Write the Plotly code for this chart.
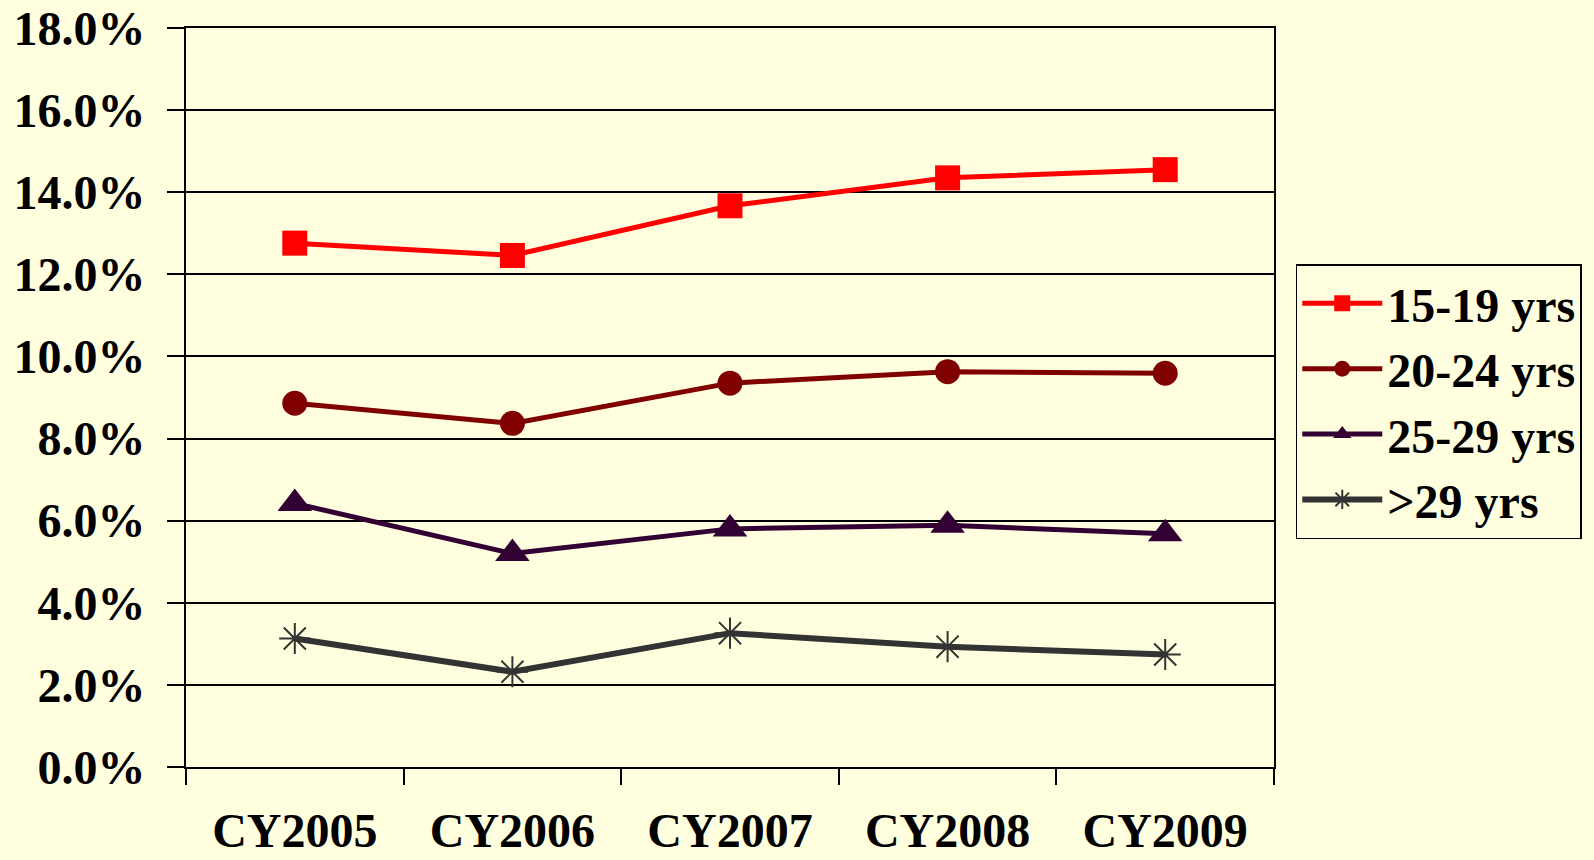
import plotly.graph_objects as go

categories = ["CY2005", "CY2006", "CY2007", "CY2008", "CY2009"]
s15_19 = [12.76, 12.46, 13.67, 14.35, 14.55]
s20_24 = [8.86, 8.37, 9.35, 9.63, 9.59]
s25_29 = [6.42, 5.20, 5.80, 5.89, 5.68]
s29p = [3.13, 2.32, 3.26, 2.93, 2.74]
names = ["15-19 yrs", "20-24 yrs", "25-29 yrs", ">29 yrs"]
ytick_vals = [0, 2, 4, 6, 8, 10, 12, 14, 16, 18]
ytick_text = ["0.0%", "2.0%", "4.0%", "6.0%", "8.0%", "10.0%", "12.0%", "14.0%", "16.0%", "18.0%"]

BG = "#FFFFE0"
FONT = "Liberation Serif"
FS = 48

fig = go.Figure()
fig.add_trace(go.Scatter(x=categories, y=s15_19, name=names[0], mode="lines+markers",
                         line=dict(color="#FF0000", width=5),
                         marker=dict(symbol="square", size=25, color="#FF0000")))
fig.add_trace(go.Scatter(x=categories, y=s20_24, name=names[1], mode="lines+markers",
                         line=dict(color="#800000", width=5),
                         marker=dict(symbol="circle", size=25, color="#800000")))
fig.add_trace(go.Scatter(x=categories, y=s25_29, name=names[2], mode="lines+markers",
                         line=dict(color="#330033", width=5),
                         marker=dict(symbol="triangle-up", size=30, color="#330033")))
fig.add_trace(go.Scatter(x=categories, y=s29p, name=names[3], mode="lines+markers",
                         line=dict(color="#333333", width=6),
                         marker=dict(symbol="asterisk-open", size=26,
                                     line=dict(color="#333333", width=2))))

fig.update_layout(
    width=1594, height=860,
    paper_bgcolor=BG, plot_bgcolor=BG,
    margin=dict(l=186, r=320, t=28, b=93, autoexpand=False),
    font=dict(family=FONT, size=FS, color="#000000"),
    showlegend=True,
    legend=dict(x=1.02, xanchor="left", y=0.6806, yanchor="top",
                bgcolor=BG, bordercolor="#000000", borderwidth=1.5,
                font=dict(family=FONT, size=FS, color="#000000", weight="bold"),
                itemwidth=80, tracegroupgap=0),
    xaxis=dict(type="category", tickson="boundaries", ticks="outside", ticklen=16,
               tickwidth=2, tickcolor="#000000", showgrid=False,
               showline=True, linecolor="#000000", linewidth=2, mirror=True,
               range=[-0.5, 4.5],
               tickfont=dict(family=FONT, size=FS, weight="bold", color="#000000"),
               ticklabelstandoff=20),
    yaxis=dict(range=[0, 18], tickvals=ytick_vals, ticktext=ytick_text,
               ticks="outside", ticklen=17, tickwidth=2, tickcolor="#000000",
               showgrid=True, gridcolor="#000000", gridwidth=2,
               showline=True, linecolor="#000000", linewidth=2, mirror=True,
               zeroline=False,
               tickfont=dict(family=FONT, size=FS, weight="bold", color="#000000"),
               ticklabelstandoff=12),
)

fig.write_html(
    "out.html",
    config={"displayModeBar": False},
    post_script="document.documentElement.style.margin='0';"
                "document.body.style.margin='0';"
                "document.body.style.background='" + BG + "';",
)
